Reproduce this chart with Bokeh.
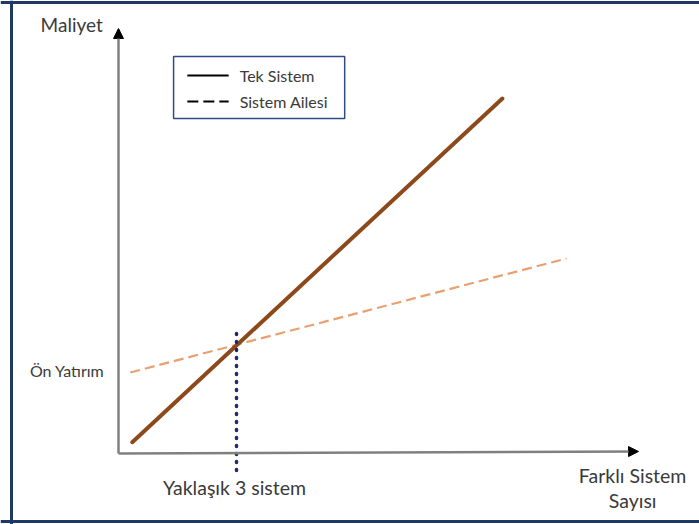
from bokeh.plotting import figure
from bokeh.models import Range1d, Arrow, NormalHead, Span, Label
from bokeh.embed import file_html
from bokeh.resources import INLINE

# ---- data (conceptual cost model) ----
tek_x = [0.35, 9.76]          # number of different systems
tek_y = [0.93, 35.3]          # cost, single system
aile_x = [0.30, 11.39]
aile_y = [7.9, 19.3]          # cost, system family (initial investment ~7.9)
break_even_x = 3.0            # approx. 3 systems
break_even_span = [-1.9, 12.4]
legend_labels = ["Tek Sistem", "Sistem Ailesi"]

FONT = "Lato"
TXT = "#3a3a3a"

p = figure(width=699, height=524, output_backend="svg", toolbar_location=None,
           x_axis_location=None, y_axis_location=None, min_border=0,
           x_range=Range1d(-3.0, 14.77), y_range=Range1d(-7.3, 45.1))
p.grid.visible = False
p.outline_line_color = None
p.background_fill_color = "white"
p.border_fill_color = "white"

# frame border (left, top, bottom)
for dim, loc in (("height", -2.72), ("width", 44.9), ("width", -7.0)):
    p.add_layout(Span(location=loc, dimension=dim, line_color="#1F3864", line_width=3))

# axes with arrows
p.add_layout(Arrow(x_start=0, y_start=-0.2, x_end=13.22, y_end=0, line_color="#808080", line_width=2.5,
                   end=NormalHead(size=10, fill_color="black", line_color="black")))
p.add_layout(Arrow(x_start=0, y_start=-0.2, x_end=0, y_end=42.3, line_color="#808080", line_width=2.5,
                   end=NormalHead(size=10, fill_color="black", line_color="black")))

# series
p.line(aile_x, aile_y, line_color="#E9A070", line_width=2.2, line_dash="10 5")
p.line(tek_x, tek_y, line_color="#8C4A1C", line_width=4, line_cap="round")

# break-even dotted line
p.line([break_even_x, break_even_x], break_even_span, line_color="#1B2A6B",
       line_width=3.5, line_dash="1 7", line_cap="round")

# texts
def lab(x, y, t, size, align="left", base="alphabetic"):
    p.add_layout(Label(x=x, y=y, text=t, text_font=FONT, text_font_size=size,
                       text_color=TXT, text_align=align, text_baseline=base))

lab(-1.98, 42.7, "Maliyet", "19px")
lab(-0.36, 8.1, "Ön Yatırım", "16px", align="right")
lab(2.95, -3.6, "Yaklaşık 3 sistem", "19.5px", align="center")
lab(13.07, -2.4, "Farklı Sistem", "19.5px", align="center")
lab(13.07, -4.9, "Sayısı", "19.5px", align="center")

# legend box
p.quad(left=1.40, right=5.75, top=39.5, bottom=33.3, fill_color="white",
       line_color="#2E4A8A", line_width=1.5)
p.line([1.75, 2.80], [37.6, 37.6], line_color="black", line_width=1.8)
p.line([1.75, 2.80], [35.0, 35.0], line_color="black", line_width=1.8, line_dash="11 5")
lab(3.08, 37.6, legend_labels[0], "16px", base="middle")
lab(3.08, 35.0, legend_labels[1], "16px", base="middle")

open("out.html", "w").write(file_html(p, INLINE))
